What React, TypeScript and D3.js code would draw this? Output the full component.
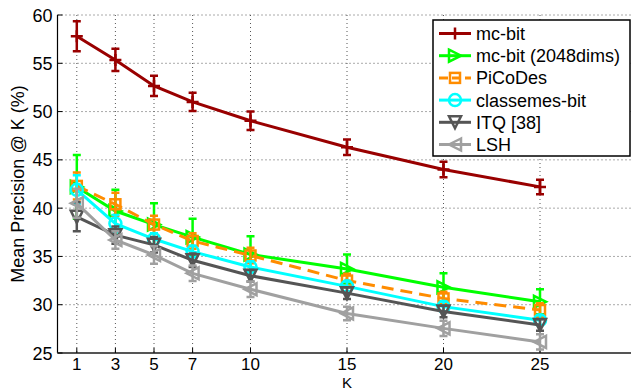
import React from "react";
import * as d3 from "d3";

const ks = [1, 3, 5, 7, 10, 15, 20, 25];
const yTicks = [25, 30, 35, 40, 45, 50, 55, 60];

const mcBit = [57.8, 55.35, 52.65, 51.0, 49.05, 46.3, 44.0, 42.2];
const mcBitErr = [1.55, 1.15, 1.05, 0.95, 0.95, 0.8, 0.8, 0.75];
const mcBit2048 = [42.2, 39.7, 38.3, 37.0, 35.2, 33.7, 31.8, 30.3];
const mcBit2048Err = [3.3, 2.2, 2.2, 1.9, 1.9, 1.5, 1.45, 1.3];
const picodes = [42.3, 40.4, 38.3, 36.6, 35.1, 32.5, 30.65, 29.45];
const picodesErr = [1.4, 1.2, 0.9, 0.8, 0.8, 0.7, 0.7, 0.7];
const classemes = [41.9, 38.4, 36.8, 35.5, 33.9, 31.9, 29.8, 28.4];
const classemesErr = [1.5, 0.9, 0.6, 0.6, 0.6, 0.5, 0.5, 0.5];
const itq = [39.1, 37.2, 36.2, 34.6, 33.0, 31.2, 29.3, 27.9];
const itqErr = [1.5, 0.9, 0.8, 0.7, 0.6, 0.6, 0.6, 0.6];
const lsh = [40.5, 36.7, 35.15, 33.25, 31.6, 29.1, 27.55, 26.15];
const lshErr = [1.5, 0.9, 0.9, 0.8, 0.8, 0.7, 0.8, 0.8];

type Marker = "plus" | "right" | "square" | "circle" | "down" | "left";

const series: { name: string; values: number[]; errs: number[]; color: string; marker: Marker; dashed?: boolean }[] = [
  { name: "mc-bit", values: mcBit, errs: mcBitErr, color: "#990000", marker: "plus" },
  { name: "mc-bit (2048dims)", values: mcBit2048, errs: mcBit2048Err, color: "#00ff00", marker: "right" },
  { name: "PiCoDes", values: picodes, errs: picodesErr, color: "#ff8c00", marker: "square", dashed: true },
  { name: "classemes-bit", values: classemes, errs: classemesErr, color: "#00ffff", marker: "circle" },
  { name: "ITQ [38]", values: itq, errs: itqErr, color: "#555555", marker: "down" },
  { name: "LSH", values: lsh, errs: lshErr, color: "#a0a0a0", marker: "left" },
];

const W = 631;
const H = 391;
const left = 57.5;
const top = 15;
const bottom = 353;
const font = "'Liberation Sans', Arial, Helvetica, sans-serif";

function MarkerShape({ type, x, y, color }: { type: Marker; x: number; y: number; color: string }) {
  const s = 6;
  const common = { fill: "none", stroke: color, strokeWidth: 2.5 };
  if (type === "plus")
    return <path d={`M${x - s},${y}H${x + s}M${x},${y - s}V${y + s}`} {...common} />;
  if (type === "circle") return <circle cx={x} cy={y} r={s} {...common} />;
  if (type === "square") return <rect x={x - 5} y={y - 5} width={10} height={10} {...common} />;
  if (type === "right")
    return <path d={`M${x - s},${y - s}L${x + s},${y}L${x - s},${y + s}Z`} {...common} />;
  if (type === "left")
    return <path d={`M${x + s},${y - s}L${x - s},${y}L${x + s},${y + s}Z`} {...common} />;
  return <path d={`M${x - s},${y - s}L${x + s},${y - s}L${x},${y + s}Z`} {...common} />;
}

export default function App() {
  const x = d3.scaleLinear().domain([0, 30]).range([left, left + 30 * 19.3]);
  const y = d3.scaleLinear().domain([25, 60]).range([bottom, top]);
  const line = d3
    .line<number>()
    .x((_, i) => x(ks[i]))
    .y((d) => y(d));

  const legendX = 433;
  const legendY = 20;
  const rowH = 22.2;

  return (
    <svg width={W} height={H} style={{ position: "absolute", left: 0, top: 0, background: "#fff" }} fontFamily={font}>
      <defs>
        <clipPath id="plot">
          <rect x={left} y={0} width={W - left} height={bottom + 10} />
        </clipPath>
      </defs>
      {/* grid */}
      <g stroke="#555" strokeWidth={1} strokeDasharray="1,3">
        {ks.map((k) => (
          <line key={"gx" + k} x1={x(k)} x2={x(k)} y1={top} y2={bottom} />
        ))}
        {yTicks.map((t) => (
          <line key={"gy" + t} x1={left} x2={W} y1={y(t)} y2={y(t)} />
        ))}
      </g>
      {/* axes */}
      <line x1={left} x2={left} y1={top} y2={bottom} stroke="#000" strokeWidth={1.2} />
      <line x1={left} x2={W} y1={bottom} y2={bottom} stroke="#555" strokeWidth={2} />
      {yTicks.map((t) => (
        <g key={"yt" + t}>
          <line x1={left} x2={left + 5} y1={y(t)} y2={y(t)} stroke="#000" />
          <text x={left - 5} y={y(t) + 6.5} textAnchor="end" fontSize={18}>
            {t}
          </text>
        </g>
      ))}
      {ks.map((k) => (
        <g key={"xt" + k}>
          <line x1={x(k)} x2={x(k)} y1={bottom} y2={bottom - 5} stroke="#000" />
          <text x={x(k)} y={370} textAnchor="middle" fontSize={17}>
            {k}
          </text>
        </g>
      ))}
      <text x={x(15)} y={388} textAnchor="middle" fontSize={15}>
        K
      </text>
      <text transform={`translate(24,${(top + bottom) / 2}) rotate(-90)`} textAnchor="middle" fontSize={18}>
        Mean Precision @ K (%)
      </text>
      {/* series */}
      <g clipPath="url(#plot)">
        {series.map((s) => (
          <g key={s.name}>
            <path
              d={line(s.values) || ""}
              fill="none"
              stroke={s.color}
              strokeWidth={3}
              strokeDasharray={s.dashed ? "12,7" : undefined}
            />
            {s.values.map((v, i) => {
              const cx = x(ks[i]);
              const y1 = y(v + s.errs[i]);
              const y2 = y(v - s.errs[i]);
              return (
                <g key={i}>
                  <path
                    d={`M${cx},${y1}V${y2}M${cx - 4},${y1}H${cx + 4}M${cx - 4},${y2}H${cx + 4}`}
                    stroke={s.color}
                    strokeWidth={2.5}
                    fill="none"
                  />
                  <MarkerShape type={s.marker} x={cx} y={y(v)} color={s.color} />
                </g>
              );
            })}
          </g>
        ))}
      </g>
      {/* legend */}
      <rect x={legendX} y={legendY} width={197} height={136} fill="#fff" stroke="#000" strokeWidth={1.5} />
      {series.map((s, i) => {
        const ly = legendY + 13.5 + i * rowH;
        return (
          <g key={"lg" + s.name}>
            <line
              x1={439}
              x2={471}
              y1={ly}
              y2={ly}
              stroke={s.color}
              strokeWidth={3}
              strokeDasharray={s.dashed ? "9,4" : undefined}
            />
            <MarkerShape type={s.marker} x={455} y={ly} color={s.color} />
            <text x={476} y={ly + 6.5} fontSize={18}>
              {s.name}
            </text>
          </g>
        );
      })}
    </svg>
  );
}
